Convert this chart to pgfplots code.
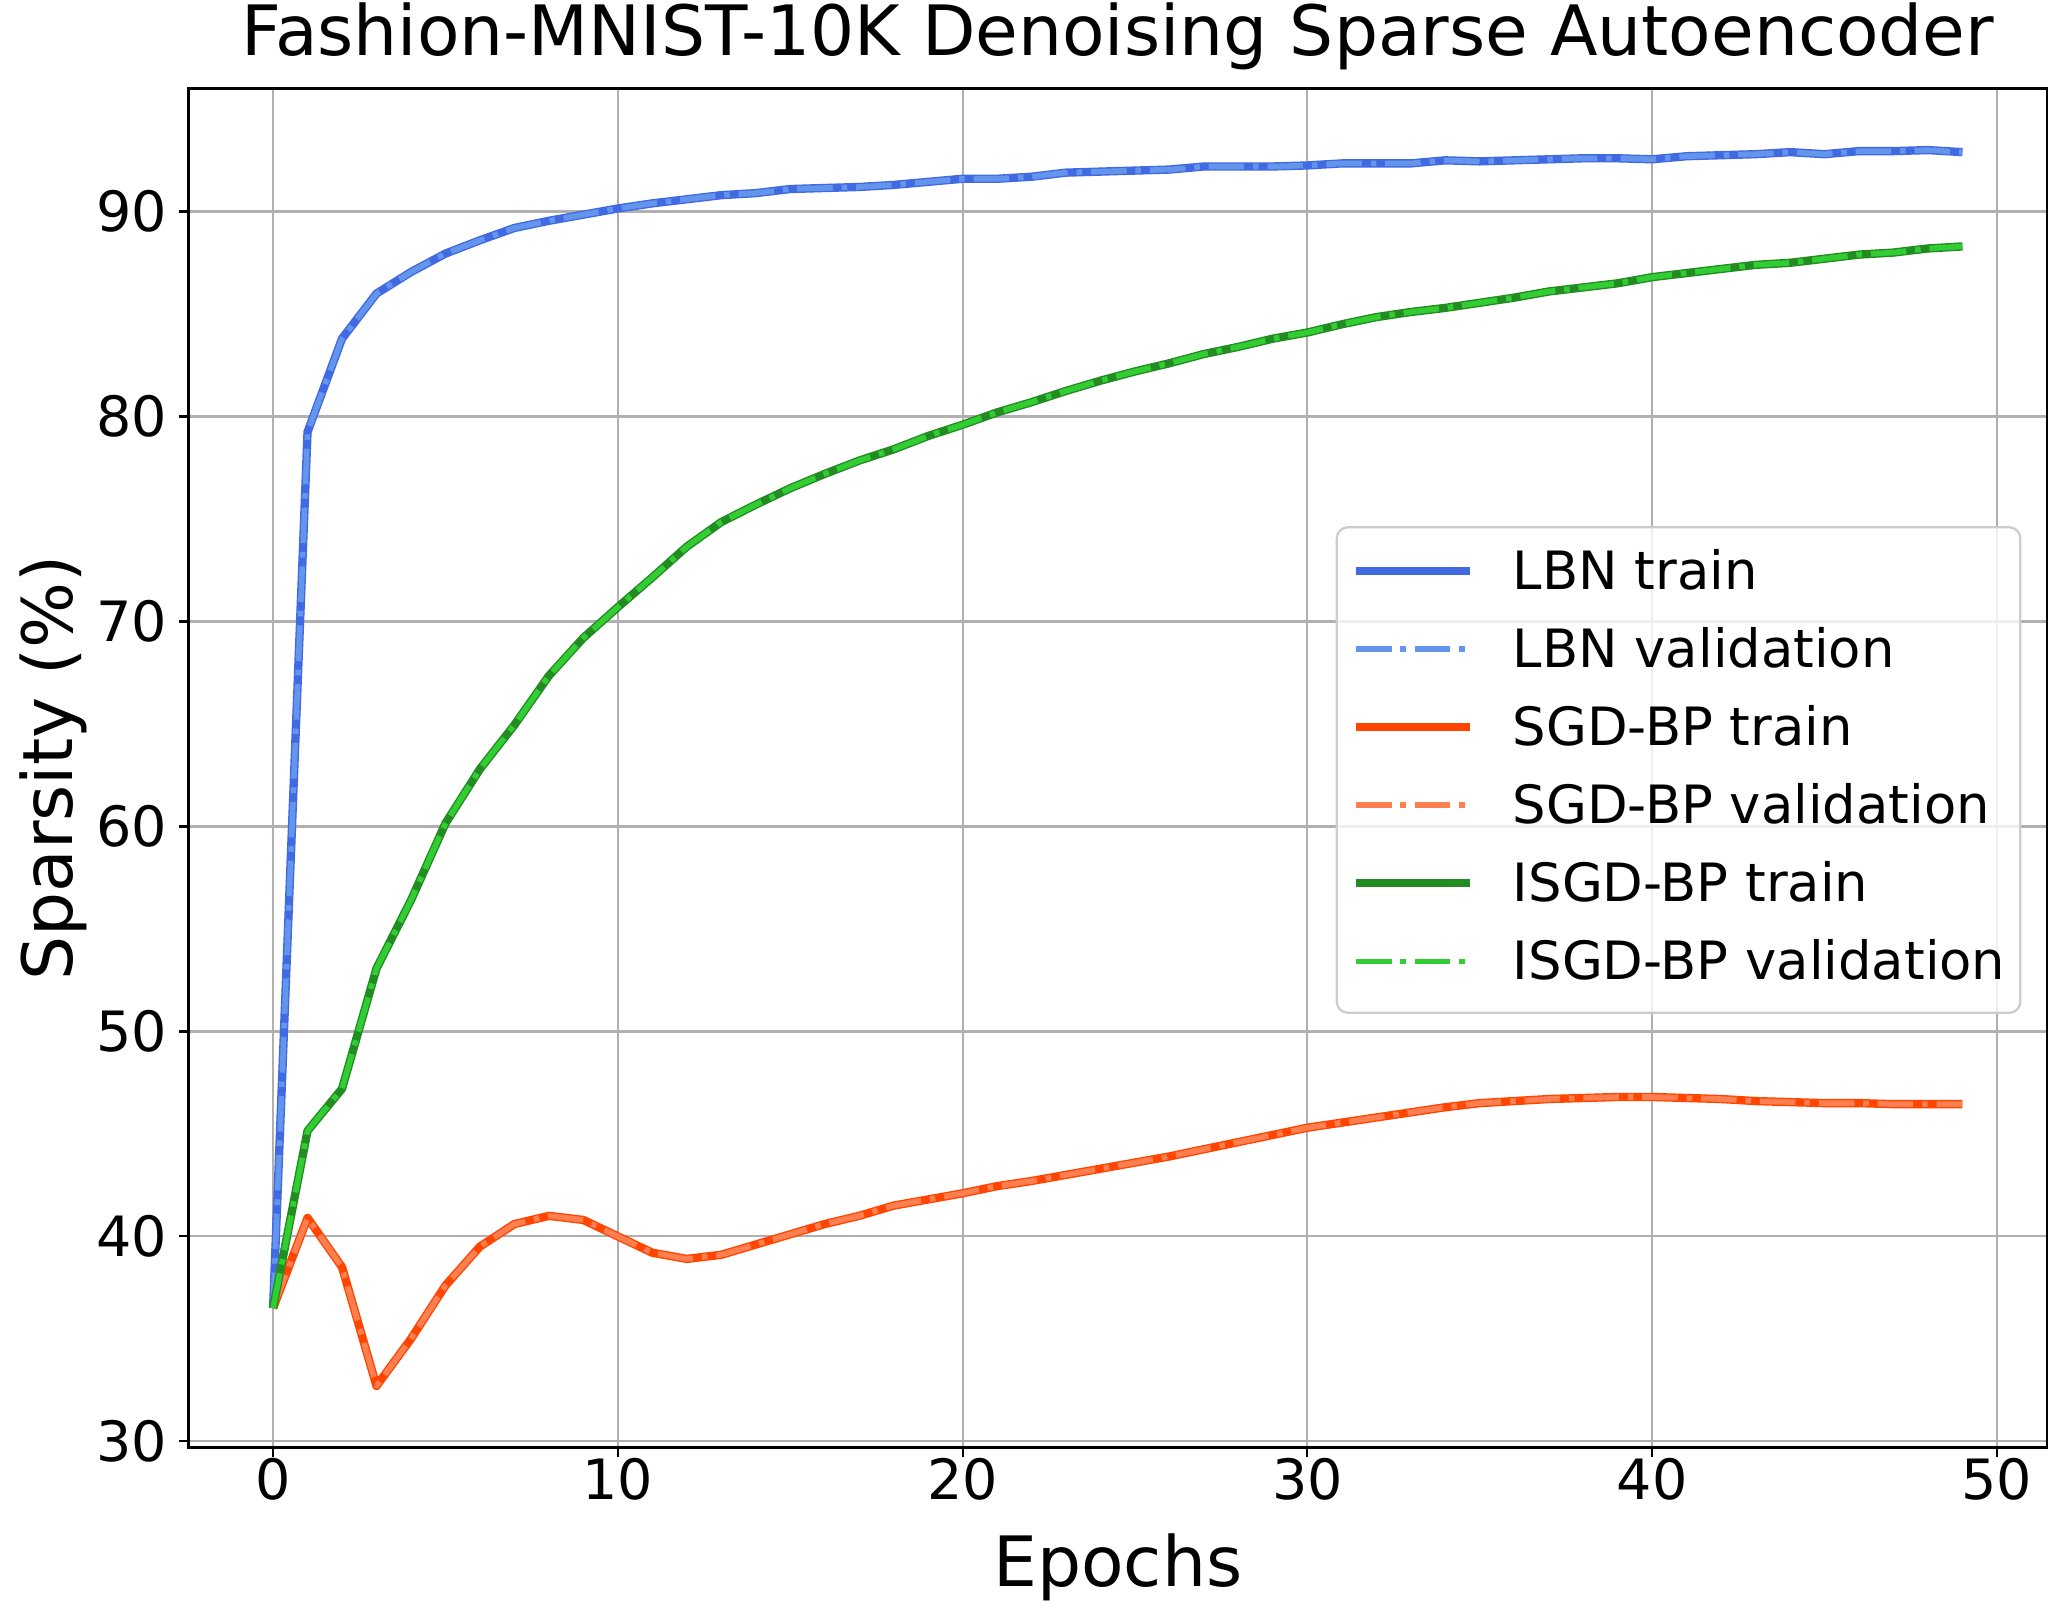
\documentclass[border=0pt]{standalone}
\usepackage{fontspec}
\setmainfont{DejaVu Sans}
\usepackage{pgfplots}
\usepackage{pgfplotstable}
\pgfplotsset{compat=1.18}
\definecolor{royalblue}{RGB}{65,105,225}
\definecolor{cornflower}{RGB}{100,149,237}
\definecolor{orangered}{RGB}{255,69,0}
\definecolor{coral}{RGB}{255,127,80}
\definecolor{forestgreen}{RGB}{34,139,34}
\definecolor{limegreen}{RGB}{50,205,50}
\definecolor{gridgray}{RGB}{176,176,176}

\pgfplotstableread{
x y
0 36.5
1 79.25
2 83.8
3 86.0
4 87.05
5 87.95
6 88.6
7 89.2
8 89.55
9 89.85
10 90.15
11 90.4
12 90.6
13 90.8
14 90.9
15 91.1
16 91.15
17 91.2
18 91.3
19 91.45
20 91.6
21 91.6
22 91.7
23 91.9
24 91.95
25 92.0
26 92.05
27 92.2
28 92.2
29 92.2
30 92.25
31 92.35
32 92.35
33 92.35
34 92.5
35 92.45
36 92.5
37 92.55
38 92.6
39 92.6
40 92.55
41 92.7
42 92.75
43 92.8
44 92.9
45 92.8
46 92.95
47 92.95
48 93.0
49 92.9
}\lbn

\pgfplotstableread{
x y
0 36.5
1 40.9
2 38.5
3 32.7
4 35.0
5 37.6
6 39.5
7 40.6
8 41.0
9 40.8
10 40.0
11 39.2
12 38.9
13 39.1
14 39.6
15 40.1
16 40.6
17 41.0
18 41.5
19 41.8
20 42.1
21 42.45
22 42.7
23 43.0
24 43.3
25 43.6
26 43.9
27 44.25
28 44.6
29 44.95
30 45.3
31 45.55
32 45.8
33 46.05
34 46.3
35 46.5
36 46.6
37 46.7
38 46.75
39 46.8
40 46.8
41 46.75
42 46.7
43 46.6
44 46.55
45 46.5
46 46.5
47 46.45
48 46.45
49 46.45
}\sgd

\pgfplotstableread{
x y
0 36.5
1 45.15
2 47.2
3 53.07
4 56.4
5 60.15
6 62.8
7 64.95
8 67.35
9 69.2
10 70.7
11 72.15
12 73.65
13 74.85
14 75.7
15 76.5
16 77.2
17 77.85
18 78.4
19 79.05
20 79.6
21 80.2
22 80.7
23 81.25
24 81.75
25 82.2
26 82.6
27 83.05
28 83.4
29 83.8
30 84.1
31 84.5
32 84.85
33 85.1
34 85.3
35 85.55
36 85.8
37 86.1
38 86.3
39 86.5
40 86.8
41 87.0
42 87.2
43 87.4
44 87.5
45 87.7
46 87.9
47 88.0
48 88.2
49 88.3
}\isgd

\begin{document}
\begin{tikzpicture}
\begin{axis}[
  name=ax,
  scale only axis,
  width=669pt, height=489.2pt,
  xmin=-2.45, xmax=51.45,
  ymin=29.7, ymax=96.0,
  xtick={0,10,20,30,40,50},
  ytick={30,40,50,60,70,80,90},
  /pgf/number format/assume math mode=true,
  tick label style={font=\fontsize{20}{24}\selectfont},
  xticklabel style={anchor=base, inner sep=0pt, yshift=-15.4pt},
  yticklabel style={anchor=east, inner sep=0pt, xshift=-4pt},
  tick align=outside,
  major tick length=3.5pt,
  every tick/.style={black, line width=0.8pt},
  axis line style={black, line width=0.8pt},
  xtick pos=bottom, ytick pos=left,
  grid=major,
  major grid style={gridgray, line width=0.8pt},
  title={Fashion-MNIST-10K Denoising Sparse Autoencoder},
  title style={font=\fontsize{25}{30}\selectfont, at={(axis description cs:0.5,1.01186)}, anchor=base, inner sep=0pt},
  xlabel={Epochs},
  xlabel style={font=\fontsize{25}{30}\selectfont, at={(axis description cs:0.5,-0.1022)}, anchor=base, inner sep=0pt},
  ylabel={Sparsity (\%)},
  ylabel style={font=\fontsize{25}{30}\selectfont, at={(axis description cs:-0.0625,0.5)}, anchor=base, inner sep=0pt},
  legend image code/.code={\draw[#1] (0pt,1.4pt) -- (41pt,1.4pt);},
  legend style={
    at={(axis description cs:0.9863,0.678)}, anchor=north east,
    draw={rgb,255:red,204;green,204;blue,204}, line width=0.8pt,
    rounded corners=4pt,
    fill=white, fill opacity=0.8, text opacity=1,
    inner xsep=5.4pt, inner ysep=7.3pt,
    font=\fontsize{19}{23}\selectfont,
    cells={anchor=west},
    row sep=8.4pt, column sep=14pt,
    nodes={inner sep=0pt, text height=15pt, text depth=4.7pt},
  },
  train/.style={line width=3pt, line join=round, line cap=butt},
  val/.style={line width=2pt, line join=round, line cap=butt, dash pattern=on 12.8pt off 3.2pt on 2pt off 3.2pt},
]
\addplot[train, royalblue] table[x=x,y=y] {\lbn};
\addlegendentry{LBN train}
\addplot[val, cornflower] table[x=x,y=y] {\lbn};
\addlegendentry{LBN validation}
\addplot[train, orangered] table[x=x,y=y] {\sgd};
\addlegendentry{SGD-BP train}
\addplot[val, coral] table[x=x,y=y] {\sgd};
\addlegendentry{SGD-BP validation}
\addplot[train, forestgreen] table[x=x,y=y] {\isgd};
\addlegendentry{ISGD-BP train}
\addplot[val, limegreen] table[x=x,y=y] {\isgd};
\addlegendentry{ISGD-BP validation\hspace{3pt}}
\end{axis}
\pgfresetboundingbox
\path ([shift={(-67.9pt,-62pt)}]ax.south west) rectangle ([shift={(7.6pt,31.9pt)}]ax.north east);
\end{tikzpicture}
\end{document}
